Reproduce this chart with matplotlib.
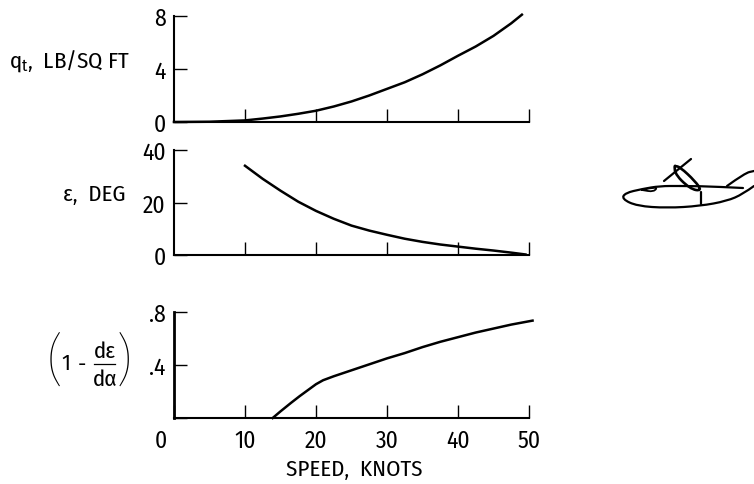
import matplotlib
matplotlib.use('Agg')
import matplotlib.pyplot as plt
from matplotlib.lines import Line2D
from matplotlib.path import Path
from matplotlib.patches import PathPatch
from matplotlib.transforms import Affine2D, ScaledTranslation

W, H = 754, 485

plt.rcParams['font.family'] = ['Fira Sans Condensed', 'Liberation Sans', 'DejaVu Sans']
plt.rcParams['mathtext.fontset'] = 'custom'
plt.rcParams['mathtext.rm'] = 'Fira Sans Condensed'
plt.rcParams['mathtext.it'] = 'Fira Sans Condensed'

# curve values
q_speed = [0, 5, 10, 12.5, 15, 17.5, 20, 22.5, 25, 27.5, 30, 32.5, 35, 37.5, 40, 42.5, 45, 47.5, 49]
q_vals = [0, .02, .12, .26, .42, .62, .85, 1.17, 1.55, 2.0, 2.5, 3.0, 3.6, 4.27, 5.0, 5.7, 6.5, 7.45, 8.1]

eps_speed = [10, 12.5, 15, 17.5, 20, 22.5, 25, 27.5, 30, 32.5, 35, 37.5, 40, 42.5, 45, 47.5, 49.5]
eps_vals = [34, 29, 24.5, 20.3, 16.8, 13.8, 11.2, 9.3, 7.7, 6.2, 5.0, 4.0, 3.2, 2.4, 1.7, .9, .2]

down_speed = [13.9, 15, 16.5, 17.7, 20, 21, 22.5, 25, 27.5, 30, 32.5, 35, 37.5, 40, 42.5, 45, 47.5, 50.5]
down_vals = [0, .05, .115, .165, .255, .285, .315, .36, .405, .45, .49, .535, .575, .61, .645, .675, .705, .735]

speed_ticks = [0, 10, 20, 30, 40, 50]
speed_labels = ['0', '10', '20', '30', '40', '50']

q_ticks = [0, 4, 8]
q_labels = ['0', '4', '8']
eps_ticks = [0, 20, 40]
eps_labels = ['0', '20', '40']
down_ticks = [0, .4, .8]
down_labels = ['', '.4', '.8']

# sketch of the aircraft, in picture pixels
body = [(754, 187), (743, 195), (727, 202), (700, 207), (667, 209), (637, 207),
        (622, 200), (625, 194), (642, 190), (660, 187), (680, 187)]
top_line = [(680, 187), (700, 187), (743, 189)]
tail = [(727, 187), (745, 174), (754, 172)]
cockpit = [(642, 191), (658, 187), (654, 193), (642, 191)]
blade = [(664, 182), (691, 160)]
nacelle = [(675, 167), (673, 173), (690, 190), (702, 192), (695, 182), (680, 168), (675, 167)]
strut = [(701, 193), (701, 205)]

fig = plt.figure(figsize=(W / 100, H / 100), dpi=100)
pixels = Affine2D().scale(1 / W, -1 / H).translate(0, 1) + fig.transFigure


def make_axes(top, bottom, ylim, yticks, ylabels):
    ax = fig.add_axes([174 / W, 1 - bottom / H, (529 - 174) / W, (bottom - top) / H])
    ax.set_xlim(0, 50)
    ax.set_ylim(*ylim)
    ax.patch.set_visible(False)
    ax.spines['top'].set_visible(False)
    ax.spines['right'].set_visible(False)
    ax.spines['left'].set_linewidth(1.5)
    ax.spines['bottom'].set_linewidth(1.5)
    ax.set_xticks(speed_ticks[1:])
    ax.set_xticklabels([])
    ax.set_yticks(yticks)
    ax.set_yticklabels(ylabels, fontsize=17)
    ax.tick_params(axis='both', direction='in', length=9.5, width=1.0, pad=6)
    return ax


def smooth_path(pts):
    # quadratic segments through the midpoints, good enough for a hand drawn outline
    verts = [pts[0]]
    codes = [Path.MOVETO]
    for a, b in zip(pts[1:-1], pts[2:]):
        verts += [a, ((a[0] + b[0]) / 2, (a[1] + b[1]) / 2)]
        codes += [Path.CURVE3, Path.CURVE3]
    verts.append(pts[-1])
    codes.append(Path.LINETO)
    return Path(verts, codes)


def sketch(pts, lw=1.6):
    fig.add_artist(PathPatch(smooth_path(pts), fc='none', ec='black', lw=lw,
                             transform=pixels, capstyle='round'))


def label(x, y, s, size=16.5, ha='center', weight='normal'):
    fig.text(x, y, s, fontsize=size, ha=ha, va='center', transform=pixels, color='black',
             fontweight=weight)


ax1 = make_axes(17, 123, (0, 8), q_ticks, q_labels)
ax1.plot(q_speed, q_vals, color='black', lw=1.8, clip_on=False)

ax2 = make_axes(151, 256, (0, 40), eps_ticks, eps_labels)
ax2.plot(eps_speed, eps_vals, color='black', lw=1.8, clip_on=False)

ax3 = make_axes(313, 419, (0, .8), down_ticks, down_labels)
ax3.plot(down_speed, down_vals, color='black', lw=1.8, clip_on=False)
ax3.spines['left'].set_linewidth(2)
ax3.set_xticks(speed_ticks)
ax3.set_xticklabels(speed_labels, fontsize=17)
ax3.tick_params(axis='x', pad=8)
# the zero sits left of the axis corner in the original
zero = ax3.xaxis.get_major_ticks()[0].label1
zero.set_transform(zero.get_transform() + ScaledTranslation(-13 / 100, 0, fig.dpi_scale_trans))

label(70, 61, r'q$_{\mathrm{t}}$,  LB/SQ FT')
label(94, 195, 'ε,  DEG')
label(354, 470, 'SPEED,  KNOTS')

# bracketed term on the lowest panel
label(55, 363, '(', size=40, weight='light')
label(124, 363, ')', size=40, weight='light')
label(66, 364, '1')
label(82, 365, '-')
label(105, 352, 'dε')
label(105, 380, 'dα')
fig.add_artist(Line2D([94, 115], [365, 365], color='black', lw=0.9, transform=pixels))

sketch(body)
sketch(top_line)
sketch(tail)
sketch(cockpit, lw=1.3)
sketch(blade)
sketch(nacelle, lw=1.9)
sketch(strut)

fig.savefig('out.png', dpi=100, facecolor='white')
